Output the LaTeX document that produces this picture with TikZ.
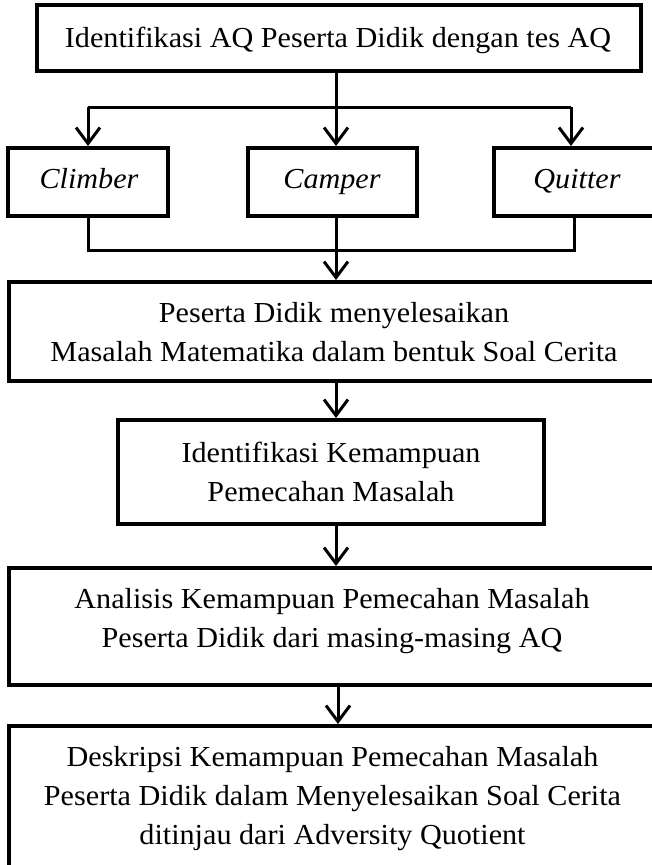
\documentclass[tikz,border=0pt]{standalone}
\usepackage{fontspec}
\setmainfont{Liberation Serif}[FakeStretch=1.04]
\usetikzlibrary{arrows.meta}
\begin{document}
\begin{tikzpicture}[x=1pt,y=-1pt,
  box/.style={draw, line width=4pt, inner sep=0pt},
  conn/.style={line width=3pt},
  arr/.style={conn, -{Straight Barb[length=16pt,width=24pt]}},
  txt/.style={font=\fontsize{29}{39}\selectfont, align=center, inner sep=0pt, anchor=base}]
\useasboundingbox (0,0) rectangle (651,865);
% boxes
\node[box, minimum width=604.5pt, minimum height=66pt] (b1) at (338.75,38) {};
\node[box, minimum width=160pt, minimum height=68pt] (climber) at (88,182) {};
\node[box, minimum width=169pt, minimum height=68pt] (camper) at (332.5,182) {};
\node[box, minimum width=171pt, minimum height=68pt] (quitter) at (579.5,182) {};
\node[box, minimum width=656pt, minimum height=99pt] (b3) at (337,331.5) {};
\node[box, minimum width=426pt, minimum height=104pt] (b4) at (331,472) {};
\node[box, minimum width=656pt, minimum height=117pt] (b5) at (337,626.5) {};
\node[box, minimum width=656pt, minimum height=164pt] (b6) at (337,808) {};
% texts (anchor = baseline of last line)
\node[txt] (t1) at (338,47) {Identifikasi AQ Peserta Didik dengan tes AQ};
\node[txt] (tcl) at (89,188) {\itshape Climber};
\node[txt] (tca) at (332,188) {\itshape Camper};
\node[txt] (tqu) at (577,188) {\itshape Quitter};
\node[txt] (t3) at (334,361) {Peserta Didik menyelesaikan\\Masalah Matematika dalam bentuk Soal Cerita};
\node[txt] (t4) at (331,501) {Identifikasi Kemampuan\\Pemecahan Masalah};
\node[txt] (t5) at (332,647) {Analisis Kemampuan Pemecahan Masalah\\Peserta Didik dari masing-masing AQ};
\node[txt] (t6) at (332.5,844) {Deskripsi Kemampuan Pemecahan Masalah\\Peserta Didik dalam Menyelesaikan Soal Cerita\\ditinjau dari Adversity Quotient};
% junctions
\coordinate (j1) at (336,107);
\coordinate (jl) at (88,107);
\coordinate (jr) at (571,107);
\coordinate (kl) at (88,250);
\coordinate (km) at (336,250);
\coordinate (kr) at (574,250);
\coordinate (a3) at (336,0);
\coordinate (a5) at (338,0);
% connectors
\draw[conn] (b1.south -| j1) -- (j1);
\draw[conn] (jl) -- (jr);
\draw[arr] (jl) -- (jl |- climber.north);
\draw[arr] (j1) -- (j1 |- camper.north);
\draw[arr] (jr) -- (jr |- quitter.north);
\draw[conn] (climber.south -| kl) -- (kl) -- (kr) -- (quitter.south -| kr);
\draw[arr] (camper.south -| km) -- (b3.north -| km);
\draw[arr] (b3.south -| a3) -- (b4.north -| a3);
\draw[arr] (b4.south -| a3) -- (b5.north -| a3);
\draw[arr] (b5.south -| a5) -- (b6.north -| a5);
\end{tikzpicture}
\end{document}
